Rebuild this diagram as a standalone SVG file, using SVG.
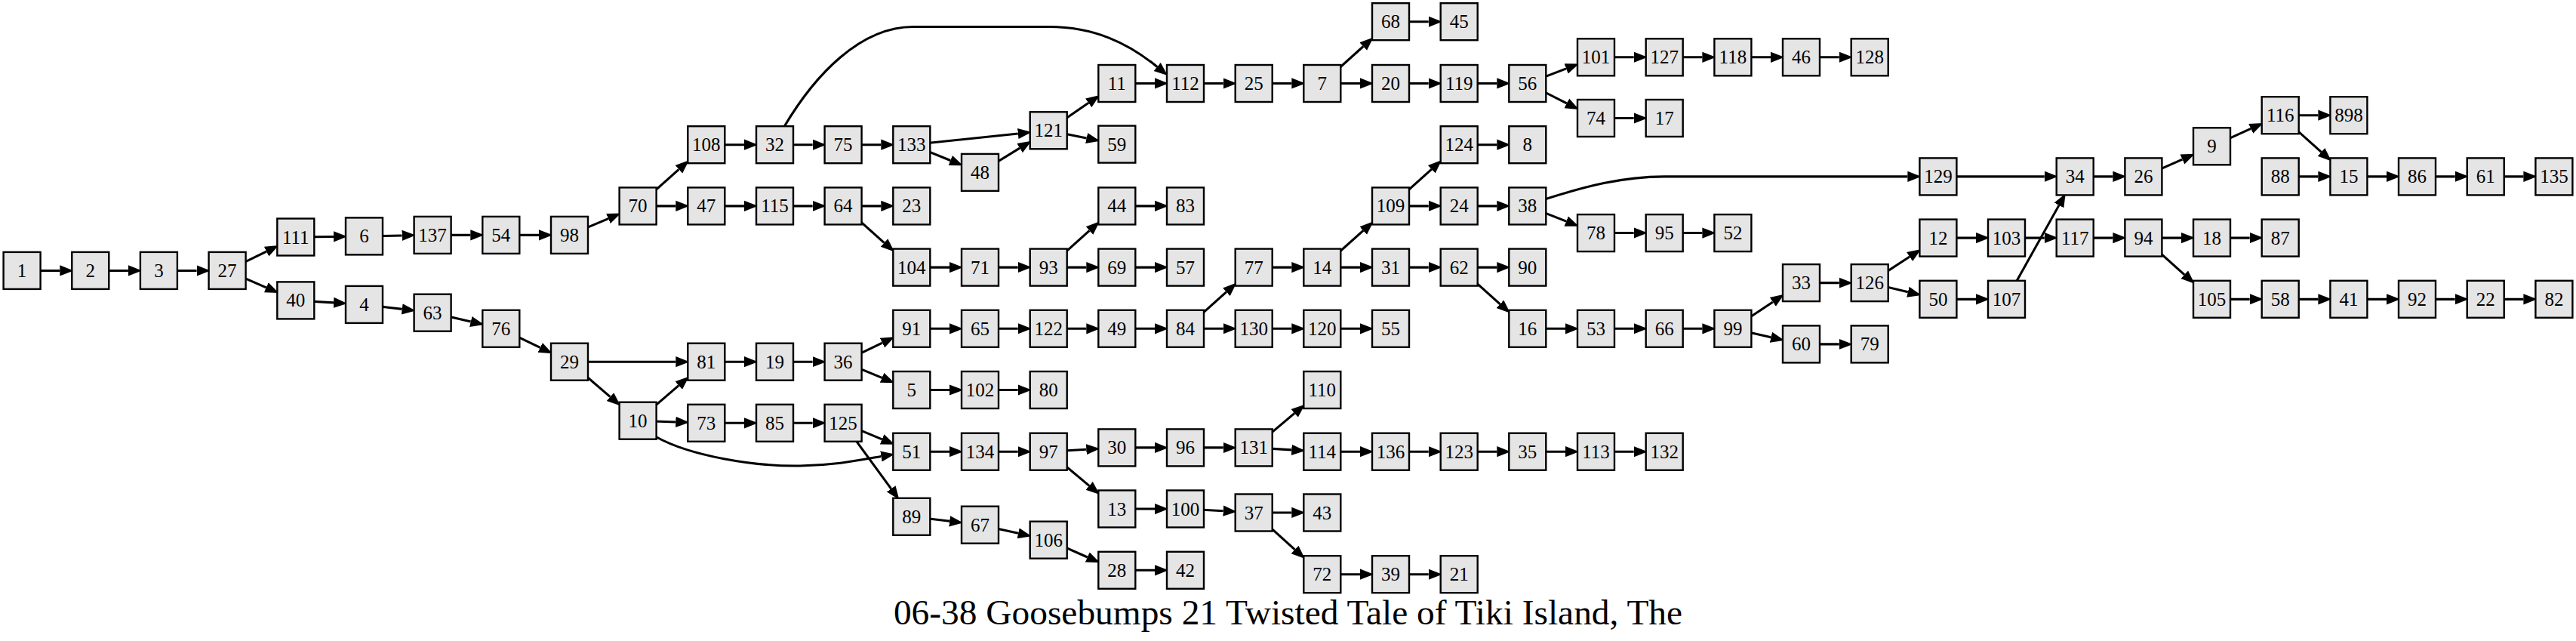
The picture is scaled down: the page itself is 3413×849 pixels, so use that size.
<svg xmlns="http://www.w3.org/2000/svg" width="3413" height="849" viewBox="0 0 3413 849">
<style>
.node{fill:#e5e5e5;stroke:#000;stroke-width:2.4}
.node text{font-family:"Liberation Serif","Times New Roman",serif;font-size:25px;text-anchor:middle;fill:#000;stroke:none}
.edges path{fill:none;stroke:#000;stroke-width:3.1;marker-end:url(#ah)}
.title{font-family:"Liberation Serif","Times New Roman",serif;font-size:47.4px;text-anchor:middle;fill:#000}
</style>
<defs>
<marker id="ah" markerUnits="userSpaceOnUse" viewBox="0 -8 19 16" refX="0" refY="0" markerWidth="19" markerHeight="16" orient="auto">
<path d="M0,-7.2 L18.2,0 L0,7.2 z" fill="#000" stroke="none"/>
</marker>
<rect id="b" x="-24.5" y="-24.5" width="49" height="49"/>
</defs>
<rect width="3413" height="849" fill="#fff"/>
<g class="edges" id="edges" transform="scale(1,0.98717)">
<path d="M29.1,363.1 L79.3,363.1"/>
<path d="M119.8,363.1 L169.9,363.1"/>
<path d="M210.4,363.1 L260.6,363.1"/>
<path d="M301.1,363.1 L353.0,337.4"/>
<path d="M301.1,363.1 L352.7,385.8"/>
<path d="M391.8,318.1 L442.0,317.5"/>
<path d="M482.5,317.0 L532.6,316.0"/>
<path d="M573.1,315.4 L623.3,315.4"/>
<path d="M663.8,315.4 L714.0,315.4"/>
<path d="M754.5,315.4 L805.9,293.3"/>
<path d="M391.8,403.1 L442.0,406.1"/>
<path d="M482.5,408.6 L532.7,414.7"/>
<path d="M573.1,419.6 L623.7,431.5"/>
<path d="M663.8,441.0 L715.6,466.4"/>
<path d="M754.5,485.4 L895.3,485.4"/>
<path d="M754.5,485.4 L808.5,532.5"/>
<path d="M845.1,276.4 L899.4,227.2"/>
<path d="M845.1,276.4 L895.3,276.4"/>
<path d="M845.1,564.4 L899.2,517.2"/>
<path d="M845.1,564.4 L895.3,566.2"/>
<path d="M869,586 C915,612 1000,626 1060,625 C1110,624 1140,617 1167.4,612.3"/>
<path d="M935.8,194.2 L986.0,194.2"/>
<path d="M1026.5,194.2 L1076.6,194.2"/>
<path d="M1039,170 C1080,100 1140,36 1210,36 L1390,36 C1450,36 1495,58 1533.1,89.6"/>
<path d="M1117.1,194.2 L1167.3,194.2"/>
<path d="M1207.8,194.2 L1348.8,179.3"/>
<path d="M1207.8,194.2 L1259.2,215.3"/>
<path d="M1298.5,231.4 L1351.1,198.7"/>
<path d="M1389.2,175.0 L1442.2,138.1"/>
<path d="M1389.2,175.0 L1439.6,185.4"/>
<path d="M1479.8,111.9 L1530.0,111.9"/>
<path d="M1570.5,111.9 L1620.7,111.9"/>
<path d="M1661.2,111.9 L1711.3,111.9"/>
<path d="M935.8,276.4 L986.0,276.4"/>
<path d="M1026.5,276.4 L1076.6,276.4"/>
<path d="M1117.1,276.4 L1167.3,276.4"/>
<path d="M1117.1,276.4 L1171.5,325.7"/>
<path d="M1207.8,358.7 L1258.0,358.7"/>
<path d="M1298.5,358.7 L1348.7,358.7"/>
<path d="M1389.2,358.7 L1443.5,309.4"/>
<path d="M1389.2,358.7 L1439.3,358.7"/>
<path d="M1479.8,276.4 L1530.0,276.4"/>
<path d="M1479.8,358.7 L1530.0,358.7"/>
<path d="M935.8,485.4 L986.0,485.4"/>
<path d="M1026.5,485.4 L1076.6,485.4"/>
<path d="M1117.1,485.4 L1168.9,460.0"/>
<path d="M1117.1,485.4 L1168.5,506.8"/>
<path d="M1207.8,441.0 L1258.0,441.0"/>
<path d="M1298.5,441.0 L1348.7,441.0"/>
<path d="M1389.2,441.0 L1439.3,441.0"/>
<path d="M1479.8,441.0 L1530.0,441.0"/>
<path d="M1570.5,441.0 L1624.9,391.7"/>
<path d="M1570.5,441.0 L1620.7,441.0"/>
<path d="M1661.2,358.7 L1711.3,358.7"/>
<path d="M1661.2,441.0 L1711.3,441.0"/>
<path d="M1751.8,441.0 L1802.0,441.0"/>
<path d="M1207.8,523.2 L1258.0,523.2"/>
<path d="M1298.5,523.2 L1348.7,523.2"/>
<path d="M935.8,567.6 L986.0,567.6"/>
<path d="M1026.5,567.6 L1076.6,567.6"/>
<path d="M1117.1,567.6 L1168.6,589.4"/>
<path d="M1117.1,567.6 L1180.7,655.7"/>
<path d="M1207.8,606.0 L1258.0,606.0"/>
<path d="M1298.5,606.0 L1348.7,606.0"/>
<path d="M1389.2,606.0 L1439.3,603.0"/>
<path d="M1389.2,606.0 L1443.1,651.7"/>
<path d="M1479.8,600.6 L1530.0,600.6"/>
<path d="M1570.5,600.6 L1620.7,600.6"/>
<path d="M1661.2,600.6 L1715.1,554.5"/>
<path d="M1661.2,600.6 L1711.3,603.6"/>
<path d="M1479.8,682.8 L1530.0,682.8"/>
<path d="M1570.5,682.8 L1620.7,685.5"/>
<path d="M1661.2,687.8 L1711.3,687.8"/>
<path d="M1661.2,687.8 L1715.5,737.4"/>
<path d="M1207.8,693.2 L1258.1,699.3"/>
<path d="M1298.5,704.2 L1349.1,715.5"/>
<path d="M1389.2,724.5 L1440.7,747.6"/>
<path d="M1479.8,765.1 L1530.0,765.1"/>
<path d="M1751.8,111.9 L1806.2,62.3"/>
<path d="M1751.8,111.9 L1802.0,111.9"/>
<path d="M1842.5,29.1 L1892.7,29.1"/>
<path d="M1842.5,111.9 L1892.7,111.9"/>
<path d="M1933.2,111.9 L1983.3,111.9"/>
<path d="M2023.8,111.9 L2075.1,92.1"/>
<path d="M2023.8,111.9 L2075.8,138.6"/>
<path d="M2114.5,76.8 L2164.7,76.8"/>
<path d="M2205.2,76.8 L2255.4,76.8"/>
<path d="M2295.9,76.8 L2346.0,76.8"/>
<path d="M2386.5,76.8 L2436.7,76.8"/>
<path d="M2114.5,158.5 L2164.7,158.5"/>
<path d="M1751.8,358.7 L1806.2,309.4"/>
<path d="M1751.8,358.7 L1802.0,358.7"/>
<path d="M1842.5,276.4 L1896.8,227.1"/>
<path d="M1842.5,276.4 L1892.7,276.4"/>
<path d="M1933.2,194.2 L1983.3,194.2"/>
<path d="M1933.2,276.4 L1983.3,276.4"/>
<path d="M2045,268 C2100,250 2150,236.9 2205,236.9 L2527.4,236.9"/>
<path d="M2023.8,276.4 L2075.1,296.9"/>
<path d="M2114.5,312.6 L2164.7,312.6"/>
<path d="M2205.2,312.6 L2255.4,312.6"/>
<path d="M1842.5,358.7 L1892.7,358.7"/>
<path d="M1933.2,358.7 L1983.3,358.7"/>
<path d="M1933.2,358.7 L1987.5,408.0"/>
<path d="M2023.8,441.0 L2074.0,441.0"/>
<path d="M2114.5,441.0 L2164.7,441.0"/>
<path d="M2205.2,441.0 L2255.4,441.0"/>
<path d="M2295.9,441.0 L2348.8,405.1"/>
<path d="M2295.9,441.0 L2346.4,452.6"/>
<path d="M2386.5,461.8 L2436.7,461.8"/>
<path d="M2386.5,379.5 L2436.7,379.5"/>
<path d="M2477.2,379.5 L2530.1,344.4"/>
<path d="M2477.2,379.5 L2527.9,391.8"/>
<path d="M2567.9,319.2 L2618.0,319.2"/>
<path d="M2658.5,319.2 L2708.7,319.2"/>
<path d="M2567.9,401.5 L2618.0,401.5"/>
<path d="M2658.5,401.5 L2728.0,275.4"/>
<path d="M2567.9,236.9 L2708.7,236.9"/>
<path d="M2749.2,236.9 L2799.4,236.9"/>
<path d="M2839.9,236.9 L2891.4,213.8"/>
<path d="M2930.5,196.3 L2982.2,172.6"/>
<path d="M3021.2,154.7 L3071.4,154.7"/>
<path d="M3021.2,154.7 L3075.5,204.0"/>
<path d="M3021.2,236.9 L3071.4,236.9"/>
<path d="M3111.9,236.9 L3162.0,236.9"/>
<path d="M3202.5,236.9 L3252.7,236.9"/>
<path d="M3293.2,236.9 L3343.4,236.9"/>
<path d="M2749.2,319.2 L2799.4,319.2"/>
<path d="M2839.9,319.2 L2890.0,319.2"/>
<path d="M2839.9,319.2 L2894.2,368.5"/>
<path d="M2930.5,319.2 L2980.7,319.2"/>
<path d="M2930.5,401.5 L2980.7,401.5"/>
<path d="M3021.2,401.5 L3071.4,401.5"/>
<path d="M3111.9,401.5 L3162.0,401.5"/>
<path d="M3202.5,401.5 L3252.7,401.5"/>
<path d="M3293.2,401.5 L3343.4,401.5"/>
<path d="M1751.8,606.0 L1802.0,606.0"/>
<path d="M1842.5,606.0 L1892.7,606.0"/>
<path d="M1933.2,606.0 L1983.3,606.0"/>
<path d="M2023.8,606.0 L2074.0,606.0"/>
<path d="M2114.5,606.0 L2164.7,606.0"/>
<path d="M1751.8,770.6 L1802.0,770.6"/>
<path d="M1842.5,770.6 L1892.7,770.6"/>
</g>
<g id="n1" class="node" transform="translate(29.1,358.4)"><use href="#b"/><text y="8.5">1</text></g>
<g id="n2" class="node" transform="translate(119.8,358.4)"><use href="#b"/><text y="8.5">2</text></g>
<g id="n3" class="node" transform="translate(210.4,358.4)"><use href="#b"/><text y="8.5">3</text></g>
<g id="n27" class="node" transform="translate(301.1,358.4)"><use href="#b"/><text y="8.5">27</text></g>
<g id="n111" class="node" transform="translate(391.8,314.0)"><use href="#b"/><text y="8.5">111</text></g>
<g id="n40" class="node" transform="translate(391.8,397.9)"><use href="#b"/><text y="8.5">40</text></g>
<g id="n6" class="node" transform="translate(482.5,312.9)"><use href="#b"/><text y="8.5">6</text></g>
<g id="n4" class="node" transform="translate(482.5,403.4)"><use href="#b"/><text y="8.5">4</text></g>
<g id="n137" class="node" transform="translate(573.1,311.4)"><use href="#b"/><text y="8.5">137</text></g>
<g id="n63" class="node" transform="translate(573.1,414.2)"><use href="#b"/><text y="8.5">63</text></g>
<g id="n54" class="node" transform="translate(663.8,311.4)"><use href="#b"/><text y="8.5">54</text></g>
<g id="n76" class="node" transform="translate(663.8,435.3)"><use href="#b"/><text y="8.5">76</text></g>
<g id="n98" class="node" transform="translate(754.5,311.4)"><use href="#b"/><text y="8.5">98</text></g>
<g id="n29" class="node" transform="translate(754.5,479.2)"><use href="#b"/><text y="8.5">29</text></g>
<g id="n70" class="node" transform="translate(845.1,272.9)"><use href="#b"/><text y="8.5">70</text></g>
<g id="n10" class="node" transform="translate(845.1,557.2)"><use href="#b"/><text y="8.5">10</text></g>
<g id="n108" class="node" transform="translate(935.8,191.7)"><use href="#b"/><text y="8.5">108</text></g>
<g id="n47" class="node" transform="translate(935.8,272.9)"><use href="#b"/><text y="8.5">47</text></g>
<g id="n81" class="node" transform="translate(935.8,479.2)"><use href="#b"/><text y="8.5">81</text></g>
<g id="n73" class="node" transform="translate(935.8,560.3)"><use href="#b"/><text y="8.5">73</text></g>
<g id="n32" class="node" transform="translate(1026.5,191.7)"><use href="#b"/><text y="8.5">32</text></g>
<g id="n115" class="node" transform="translate(1026.5,272.9)"><use href="#b"/><text y="8.5">115</text></g>
<g id="n19" class="node" transform="translate(1026.5,479.2)"><use href="#b"/><text y="8.5">19</text></g>
<g id="n85" class="node" transform="translate(1026.5,560.3)"><use href="#b"/><text y="8.5">85</text></g>
<g id="n75" class="node" transform="translate(1117.1,191.7)"><use href="#b"/><text y="8.5">75</text></g>
<g id="n64" class="node" transform="translate(1117.1,272.9)"><use href="#b"/><text y="8.5">64</text></g>
<g id="n36" class="node" transform="translate(1117.1,479.2)"><use href="#b"/><text y="8.5">36</text></g>
<g id="n125" class="node" transform="translate(1117.1,560.3)"><use href="#b"/><text y="8.5">125</text></g>
<g id="n133" class="node" transform="translate(1207.8,191.7)"><use href="#b"/><text y="8.5">133</text></g>
<g id="n23" class="node" transform="translate(1207.8,272.9)"><use href="#b"/><text y="8.5">23</text></g>
<g id="n104" class="node" transform="translate(1207.8,354.1)"><use href="#b"/><text y="8.5">104</text></g>
<g id="n91" class="node" transform="translate(1207.8,435.3)"><use href="#b"/><text y="8.5">91</text></g>
<g id="n5" class="node" transform="translate(1207.8,516.5)"><use href="#b"/><text y="8.5">5</text></g>
<g id="n51" class="node" transform="translate(1207.8,598.2)"><use href="#b"/><text y="8.5">51</text></g>
<g id="n89" class="node" transform="translate(1207.8,684.3)"><use href="#b"/><text y="8.5">89</text></g>
<g id="n48" class="node" transform="translate(1298.5,228.4)"><use href="#b"/><text y="8.5">48</text></g>
<g id="n71" class="node" transform="translate(1298.5,354.1)"><use href="#b"/><text y="8.5">71</text></g>
<g id="n65" class="node" transform="translate(1298.5,435.3)"><use href="#b"/><text y="8.5">65</text></g>
<g id="n102" class="node" transform="translate(1298.5,516.5)"><use href="#b"/><text y="8.5">102</text></g>
<g id="n134" class="node" transform="translate(1298.5,598.2)"><use href="#b"/><text y="8.5">134</text></g>
<g id="n67" class="node" transform="translate(1298.5,695.2)"><use href="#b"/><text y="8.5">67</text></g>
<g id="n121" class="node" transform="translate(1389.2,172.8)"><use href="#b"/><text y="8.5">121</text></g>
<g id="n93" class="node" transform="translate(1389.2,354.1)"><use href="#b"/><text y="8.5">93</text></g>
<g id="n122" class="node" transform="translate(1389.2,435.3)"><use href="#b"/><text y="8.5">122</text></g>
<g id="n80" class="node" transform="translate(1389.2,516.5)"><use href="#b"/><text y="8.5">80</text></g>
<g id="n97" class="node" transform="translate(1389.2,598.2)"><use href="#b"/><text y="8.5">97</text></g>
<g id="n106" class="node" transform="translate(1389.2,715.2)"><use href="#b"/><text y="8.5">106</text></g>
<g id="n11" class="node" transform="translate(1479.8,110.5)"><use href="#b"/><text y="8.5">11</text></g>
<g id="n59" class="node" transform="translate(1479.8,191.1)"><use href="#b"/><text y="8.5">59</text></g>
<g id="n44" class="node" transform="translate(1479.8,272.9)"><use href="#b"/><text y="8.5">44</text></g>
<g id="n69" class="node" transform="translate(1479.8,354.1)"><use href="#b"/><text y="8.5">69</text></g>
<g id="n49" class="node" transform="translate(1479.8,435.3)"><use href="#b"/><text y="8.5">49</text></g>
<g id="n30" class="node" transform="translate(1479.8,592.9)"><use href="#b"/><text y="8.5">30</text></g>
<g id="n13" class="node" transform="translate(1479.8,674.0)"><use href="#b"/><text y="8.5">13</text></g>
<g id="n28" class="node" transform="translate(1479.8,755.3)"><use href="#b"/><text y="8.5">28</text></g>
<g id="n112" class="node" transform="translate(1570.5,110.5)"><use href="#b"/><text y="8.5">112</text></g>
<g id="n83" class="node" transform="translate(1570.5,272.9)"><use href="#b"/><text y="8.5">83</text></g>
<g id="n57" class="node" transform="translate(1570.5,354.1)"><use href="#b"/><text y="8.5">57</text></g>
<g id="n84" class="node" transform="translate(1570.5,435.3)"><use href="#b"/><text y="8.5">84</text></g>
<g id="n96" class="node" transform="translate(1570.5,592.9)"><use href="#b"/><text y="8.5">96</text></g>
<g id="n100" class="node" transform="translate(1570.5,674.0)"><use href="#b"/><text y="8.5">100</text></g>
<g id="n42" class="node" transform="translate(1570.5,755.3)"><use href="#b"/><text y="8.5">42</text></g>
<g id="n25" class="node" transform="translate(1661.2,110.5)"><use href="#b"/><text y="8.5">25</text></g>
<g id="n77" class="node" transform="translate(1661.2,354.1)"><use href="#b"/><text y="8.5">77</text></g>
<g id="n130" class="node" transform="translate(1661.2,435.3)"><use href="#b"/><text y="8.5">130</text></g>
<g id="n131" class="node" transform="translate(1661.2,592.9)"><use href="#b"/><text y="8.5">131</text></g>
<g id="n37" class="node" transform="translate(1661.2,679.0)"><use href="#b"/><text y="8.5">37</text></g>
<g id="n7" class="node" transform="translate(1751.8,110.5)"><use href="#b"/><text y="8.5">7</text></g>
<g id="n14" class="node" transform="translate(1751.8,354.1)"><use href="#b"/><text y="8.5">14</text></g>
<g id="n120" class="node" transform="translate(1751.8,435.3)"><use href="#b"/><text y="8.5">120</text></g>
<g id="n110" class="node" transform="translate(1751.8,516.5)"><use href="#b"/><text y="8.5">110</text></g>
<g id="n114" class="node" transform="translate(1751.8,598.2)"><use href="#b"/><text y="8.5">114</text></g>
<g id="n43" class="node" transform="translate(1751.8,679.0)"><use href="#b"/><text y="8.5">43</text></g>
<g id="n72" class="node" transform="translate(1751.8,760.7)"><use href="#b"/><text y="8.5">72</text></g>
<g id="n68" class="node" transform="translate(1842.5,28.7)"><use href="#b"/><text y="8.5">68</text></g>
<g id="n20" class="node" transform="translate(1842.5,110.5)"><use href="#b"/><text y="8.5">20</text></g>
<g id="n109" class="node" transform="translate(1842.5,272.9)"><use href="#b"/><text y="8.5">109</text></g>
<g id="n31" class="node" transform="translate(1842.5,354.1)"><use href="#b"/><text y="8.5">31</text></g>
<g id="n55" class="node" transform="translate(1842.5,435.3)"><use href="#b"/><text y="8.5">55</text></g>
<g id="n136" class="node" transform="translate(1842.5,598.2)"><use href="#b"/><text y="8.5">136</text></g>
<g id="n39" class="node" transform="translate(1842.5,760.7)"><use href="#b"/><text y="8.5">39</text></g>
<g id="n45" class="node" transform="translate(1933.2,28.7)"><use href="#b"/><text y="8.5">45</text></g>
<g id="n119" class="node" transform="translate(1933.2,110.5)"><use href="#b"/><text y="8.5">119</text></g>
<g id="n124" class="node" transform="translate(1933.2,191.7)"><use href="#b"/><text y="8.5">124</text></g>
<g id="n24" class="node" transform="translate(1933.2,272.9)"><use href="#b"/><text y="8.5">24</text></g>
<g id="n62" class="node" transform="translate(1933.2,354.1)"><use href="#b"/><text y="8.5">62</text></g>
<g id="n123" class="node" transform="translate(1933.2,598.2)"><use href="#b"/><text y="8.5">123</text></g>
<g id="n21" class="node" transform="translate(1933.2,760.7)"><use href="#b"/><text y="8.5">21</text></g>
<g id="n56" class="node" transform="translate(2023.8,110.5)"><use href="#b"/><text y="8.5">56</text></g>
<g id="n8" class="node" transform="translate(2023.8,191.7)"><use href="#b"/><text y="8.5">8</text></g>
<g id="n38" class="node" transform="translate(2023.8,272.9)"><use href="#b"/><text y="8.5">38</text></g>
<g id="n90" class="node" transform="translate(2023.8,354.1)"><use href="#b"/><text y="8.5">90</text></g>
<g id="n16" class="node" transform="translate(2023.8,435.3)"><use href="#b"/><text y="8.5">16</text></g>
<g id="n35" class="node" transform="translate(2023.8,598.2)"><use href="#b"/><text y="8.5">35</text></g>
<g id="n101" class="node" transform="translate(2114.5,75.8)"><use href="#b"/><text y="8.5">101</text></g>
<g id="n74" class="node" transform="translate(2114.5,156.5)"><use href="#b"/><text y="8.5">74</text></g>
<g id="n78" class="node" transform="translate(2114.5,308.6)"><use href="#b"/><text y="8.5">78</text></g>
<g id="n53" class="node" transform="translate(2114.5,435.3)"><use href="#b"/><text y="8.5">53</text></g>
<g id="n113" class="node" transform="translate(2114.5,598.2)"><use href="#b"/><text y="8.5">113</text></g>
<g id="n127" class="node" transform="translate(2205.2,75.8)"><use href="#b"/><text y="8.5">127</text></g>
<g id="n17" class="node" transform="translate(2205.2,156.5)"><use href="#b"/><text y="8.5">17</text></g>
<g id="n95" class="node" transform="translate(2205.2,308.6)"><use href="#b"/><text y="8.5">95</text></g>
<g id="n66" class="node" transform="translate(2205.2,435.3)"><use href="#b"/><text y="8.5">66</text></g>
<g id="n132" class="node" transform="translate(2205.2,598.2)"><use href="#b"/><text y="8.5">132</text></g>
<g id="n118" class="node" transform="translate(2295.9,75.8)"><use href="#b"/><text y="8.5">118</text></g>
<g id="n52" class="node" transform="translate(2295.9,308.6)"><use href="#b"/><text y="8.5">52</text></g>
<g id="n99" class="node" transform="translate(2295.9,435.3)"><use href="#b"/><text y="8.5">99</text></g>
<g id="n46" class="node" transform="translate(2386.5,75.8)"><use href="#b"/><text y="8.5">46</text></g>
<g id="n33" class="node" transform="translate(2386.5,374.6)"><use href="#b"/><text y="8.5">33</text></g>
<g id="n60" class="node" transform="translate(2386.5,455.9)"><use href="#b"/><text y="8.5">60</text></g>
<g id="n128" class="node" transform="translate(2477.2,75.8)"><use href="#b"/><text y="8.5">128</text></g>
<g id="n126" class="node" transform="translate(2477.2,374.6)"><use href="#b"/><text y="8.5">126</text></g>
<g id="n79" class="node" transform="translate(2477.2,455.9)"><use href="#b"/><text y="8.5">79</text></g>
<g id="n129" class="node" transform="translate(2567.9,233.9)"><use href="#b"/><text y="8.5">129</text></g>
<g id="n12" class="node" transform="translate(2567.9,315.1)"><use href="#b"/><text y="8.5">12</text></g>
<g id="n50" class="node" transform="translate(2567.9,396.3)"><use href="#b"/><text y="8.5">50</text></g>
<g id="n103" class="node" transform="translate(2658.5,315.1)"><use href="#b"/><text y="8.5">103</text></g>
<g id="n107" class="node" transform="translate(2658.5,396.3)"><use href="#b"/><text y="8.5">107</text></g>
<g id="n34" class="node" transform="translate(2749.2,233.9)"><use href="#b"/><text y="8.5">34</text></g>
<g id="n117" class="node" transform="translate(2749.2,315.1)"><use href="#b"/><text y="8.5">117</text></g>
<g id="n26" class="node" transform="translate(2839.9,233.9)"><use href="#b"/><text y="8.5">26</text></g>
<g id="n94" class="node" transform="translate(2839.9,315.1)"><use href="#b"/><text y="8.5">94</text></g>
<g id="n9" class="node" transform="translate(2930.5,193.8)"><use href="#b"/><text y="8.5">9</text></g>
<g id="n18" class="node" transform="translate(2930.5,315.1)"><use href="#b"/><text y="8.5">18</text></g>
<g id="n105" class="node" transform="translate(2930.5,396.3)"><use href="#b"/><text y="8.5">105</text></g>
<g id="n116" class="node" transform="translate(3021.2,152.7)"><use href="#b"/><text y="8.5">116</text></g>
<g id="n88" class="node" transform="translate(3021.2,233.9)"><use href="#b"/><text y="8.5">88</text></g>
<g id="n87" class="node" transform="translate(3021.2,315.1)"><use href="#b"/><text y="8.5">87</text></g>
<g id="n58" class="node" transform="translate(3021.2,396.3)"><use href="#b"/><text y="8.5">58</text></g>
<g id="n898" class="node" transform="translate(3111.9,152.7)"><use href="#b"/><text y="8.5">898</text></g>
<g id="n15" class="node" transform="translate(3111.9,233.9)"><use href="#b"/><text y="8.5">15</text></g>
<g id="n41" class="node" transform="translate(3111.9,396.3)"><use href="#b"/><text y="8.5">41</text></g>
<g id="n86" class="node" transform="translate(3202.5,233.9)"><use href="#b"/><text y="8.5">86</text></g>
<g id="n92" class="node" transform="translate(3202.5,396.3)"><use href="#b"/><text y="8.5">92</text></g>
<g id="n61" class="node" transform="translate(3293.2,233.9)"><use href="#b"/><text y="8.5">61</text></g>
<g id="n22" class="node" transform="translate(3293.2,396.3)"><use href="#b"/><text y="8.5">22</text></g>
<g id="n135" class="node" transform="translate(3383.9,233.9)"><use href="#b"/><text y="8.5">135</text></g>
<g id="n82" class="node" transform="translate(3383.9,396.3)"><use href="#b"/><text y="8.5">82</text></g>
<text class="title" x="1706.5" y="827">06-38 Goosebumps 21 Twisted Tale of Tiki Island, The</text>
</svg>
